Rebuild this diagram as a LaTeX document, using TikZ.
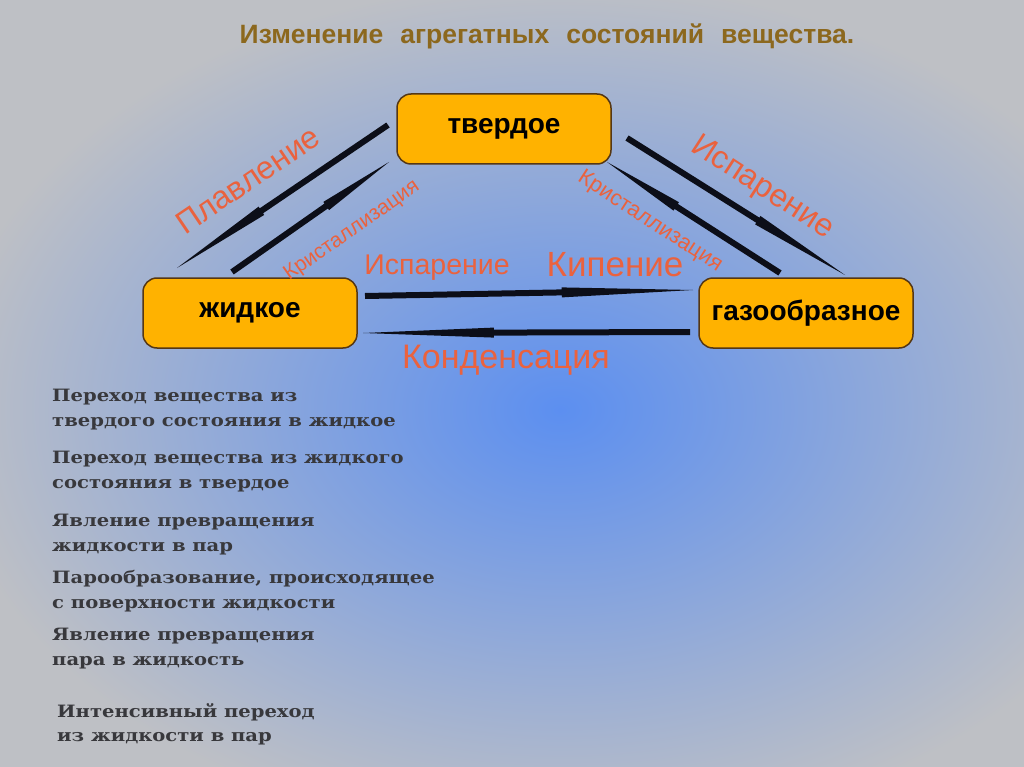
\documentclass[tikz,border=0pt]{standalone}
\usepackage{fontspec}
\setmainfont{Liberation Sans}
\newfontfamily\descfont{DejaVu Serif}
\usetikzlibrary{calc,positioning}

\definecolor{bggray}{RGB}{190,192,197}
\definecolor{glowblue}{RGB}{92,143,240}
\definecolor{boxorange}{RGB}{255,178,0}
\definecolor{boxline}{RGB}{85,55,20}
\definecolor{titlebrown}{RGB}{140,104,30}
\definecolor{labelred}{RGB}{234,98,62}
\definecolor{desctext}{RGB}{56,56,60}
\definecolor{flowblack}{RGB}{12,14,24}

\tikzset{
  phase/.style={draw=boxline,line width=1.5pt,fill=boxorange,rounded corners=14pt,
    minimum width=214pt,minimum height=70pt,font=\bfseries\fontsize{28}{32}\selectfont},
  proc/.style={text=labelred,inner sep=0pt},
  desc/.style={anchor=west,align=left,text=desctext,inner sep=0pt,xscale=1.15,
    font=\descfont\bfseries\fontsize{17}{24.5}\selectfont},
  flow/.style={draw=none,fill=flowblack,to path={
    ($(\tikztostart)!3pt!90:(\tikztotarget)$)
    -- ($(\tikztostart)!0.6!(\tikztotarget)!3pt!90:(\tikztotarget)$)
    -- ($(\tikztostart)!0.6!(\tikztotarget)!5pt!90:(\tikztotarget)$)
    -- (\tikztotarget)
    -- ($(\tikztostart)!0.6!(\tikztotarget)!5pt!-90:(\tikztotarget)$)
    -- ($(\tikztostart)!0.6!(\tikztotarget)!3pt!-90:(\tikztotarget)$)
    -- ($(\tikztostart)!3pt!-90:(\tikztotarget)$) -- cycle}}
}

\begin{document}
\begin{tikzpicture}[x=1pt,y=-1pt]
  % background with blue glow
  \useasboundingbox (0,0) rectangle (1024,767);
  \fill[bggray] (0,0) rectangle (1024,767);
  \shade[inner color=glowblue,outer color=bggray] (560,410) ellipse (620 and 430);

  \node[text=titlebrown,font=\bfseries\fontsize{26.5}{30}\selectfont] (title) at (547,36)
    {Изменение\hspace{17pt}агрегатных\hspace{17pt}состояний\hspace{17pt}вещества.};

  % states
  \node[phase] (solid)  at (504,129) {твердое};
  \node[phase] (liquid) at (250,313) {жидкое};
  \node[phase] (gas)    at (806,313) {газообразное};

  % arrow ends
  \coordinate (melt-a)  at (388,125);  \coordinate (melt-b)  at (177,268);
  \coordinate (cryl-a)  at (232,272);  \coordinate (cryl-b)  at (389,162);
  \coordinate (evs-a)   at (627,138);  \coordinate (evs-b)   at (845,275);
  \coordinate (cryr-a)  at (780,273);  \coordinate (cryr-b)  at (607,162);
  \coordinate (boil-a)  at (365,296);  \coordinate (boil-b)  at (693,290);
  \coordinate (cond-a)  at (690,332);  \coordinate (cond-b)  at (363,333);

  \path (melt-a) edge[flow] (melt-b)
        (cryl-a) edge[flow] (cryl-b)
        (evs-a)  edge[flow] (evs-b)
        (cryr-a) edge[flow] (cryr-b)
        (boil-a) edge[flow] (boil-b)
        (cond-a) edge[flow] (cond-b);

  % process names
  \node[proc,font=\fontsize{32}{34}\selectfont,rotate=34]  (melt) at (248,180) {Плавление};
  \node[proc,font=\fontsize{21}{23}\selectfont,rotate=35]  (cryl) at (352,231) {Кристаллизация};
  \node[proc,font=\fontsize{32}{34}\selectfont,rotate=-33] (evs)  at (762,188) {Испарение};
  \node[proc,font=\fontsize{22}{24}\selectfont,rotate=-33] (cryr) at (650,222) {Кристаллизация};
  \node[proc,font=\fontsize{28.5}{30}\selectfont] (evap) at (437,268) {Испарение};
  \node[proc,font=\fontsize{35}{37}\selectfont] (boil) at (615,265) {Кипение};
  \node[proc,font=\fontsize{34}{36}\selectfont] (cond) at (506,360) {Конденсация};

  % definitions
  \node[desc] (d1) at (52,409.5) {Переход вещества из\\твердого состояния в жидкое};
  \node[desc] (d2) at (52,471.5) {Переход вещества из жидкого\\состояния в твердое};
  \node[desc] (d3) at (52,534.5) {Явление превращения\\жидкости в пар};
  \node[desc] (d4) at (52,591)   {Парообразование, происходящее\\с поверхности жидкости};
  \node[desc] (d5) at (52,648.5) {Явление превращения\\пара в жидкость};
  \node[desc] (d6) at (57,724.5) {Интенсивный переход\\из жидкости в пар};
\end{tikzpicture}
\end{document}
